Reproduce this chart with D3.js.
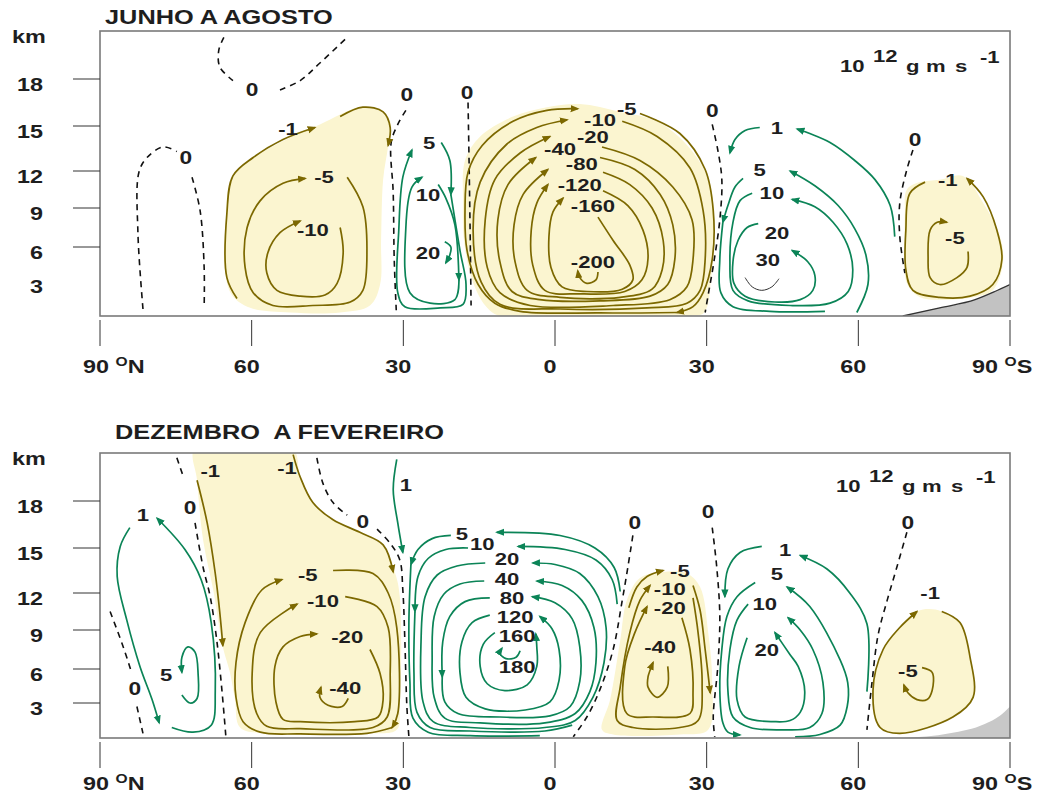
<!DOCTYPE html>
<html><head><meta charset="utf-8">
<script src="https://cdn.jsdelivr.net/npm/d3@7"></script>
<style>
body{margin:0;background:#fff;}
svg text{font-family:"Liberation Sans",Arial,sans-serif;font-weight:bold;fill:#1e1e1e;}
</style></head><body>
<svg id="chart" width="1046" height="796"></svg>
<script>
// ---------------- DATA (latitude: +N / -S, height in km) ----------------
const panelTitles = ["JUNHO A AGOSTO", "DEZEMBRO  A FEVEREIRO"];
const latTicks = [90, 60, 30, 0, -30, -60, -90];
const latTickLabels = ["90", "60", "30", "0", "30", "60", "90"];
const heightBreaks = [0, 3, 6, 9, 12, 15, 18, 21];
const heightLabels = [3, 6, 9, 12, 15, 18];
const jjaTickLines = [6, 9, 12, 15, 18];
const djfTickLines = [3, 6, 9, 12, 15, 18];
const unitText = ["10", "12", "g", "m", "s", "-1"];

// JJA -------------------------------------------------------------------
const jjaFills = [
  [[38.6,16.2],[34.6,16.0],[32.6,15.3],[33.0,13.7],[34.0,11.3],[34.4,6.5],[34.6,2.7],[36.6,0.9],[42.5,0.3],[52.4,0.3],[60.3,0.7],[63.9,1.8],[65.3,4.0],[65.1,8.1],[64.3,10.9],[61.3,12.5],[54.4,13.9],[46.5,15.1]],
  [[17.8,12.7],[14.8,14.3],[8.3,15.6],[1.6,16.2],[-4.9,16.4],[-12.9,15.9],[-20.2,15.3],[-26.7,13.5],[-30.7,10.9],[-31.4,7.5],[-30.9,3.3],[-29.5,0.3],[-26.7,0],[10.9,0],[13.8,0.9],[16.4,3.1],[18.0,6.5],[18.2,9.6]],
  [[-69.6,10.5],[-72.2,11.1],[-76.1,11.3],[-80.7,11.6],[-84.7,9.4],[-88.0,6.8],[-88.6,4.6],[-86.6,2.2],[-82.7,1.6],[-77.5,1.4],[-72.2,1.6],[-69.6,2.8],[-69.2,6.0],[-69.2,8.6]]
];
const jjaTerrain = [[-68.8,0],[-76.1,0.7],[-83.1,1.4],[-87.0,2.1],[-90,2.7]];
const jjaZero = [
  {label:[59.9,17.3], segs:[[[65.5,20.6],[66.5,19.8],[66.3,18.75],[63.7,17.9]], [[54.4,17.3],[50.4,17.9],[46.5,19.0],[41.1,20.6]]]},
  {label:[73.0,12.9], segs:[[[81.5,0.6],[82.5,7.1],[82.3,11.9],[80.7,12.9],[77.5,13.6],[74.8,13.3]], [[71.8,11.5],[70.2,8.8],[69.4,4.2],[69.4,0.7]]]},
  {label:[29.3,17.0], segs:[[[29.5,16.0],[31.1,15.1],[32.4,13.9],[32.0,10.2],[31.8,4.9],[31.4,0.5]]]},
  {label:[17.4,17.1], segs:[[[17.2,16.5],[17.0,12.7],[16.8,7.5],[16.6,0.9]]]},
  {label:[-31.1,16.0], segs:[[[-31.1,15.1],[-32.2,13.4],[-33.0,11.3],[-32.6,8.1],[-31.4,4.6],[-30.3,1.8],[-29.7,0.3]]]},
  {label:[-71.2,14.1], segs:[[[-70.8,13.4],[-69.6,12.1],[-68.2,9.4],[-68.2,6.8],[-69.2,3.7]]]}
];
const jjaContours = [
  {v:"-1", kind:"neg", label:[52.8,14.8], segs:[
    {a:1, p:[[62.9,1.5],[64.9,3.3],[64.9,8.6],[63.7,11.6],[59.7,12.9],[53.8,14.1],[47.5,14.9]]},
    {a:1, p:[[42.5,15.6],[38.0,16.2],[34.0,15.9],[32.6,14.9],[33.0,13.7]]}]},
  {v:"-5", kind:"neg", label:[45.7,11.5], segs:[
    {a:1, p:[[41.1,11.5],[38.0,9.1],[37.2,5.7],[38.0,2.2],[40.5,1.2],[47.9,0.9],[55.8,0.9],[59.7,2.0],[61.3,4.2],[60.9,7.5],[58.3,9.6],[53.8,11.0],[49.4,11.4]]}]},
  {v:"-10", kind:"neg", label:[47.9,7.3], segs:[
    {a:1, p:[[42.5,7.5],[41.9,5.5],[43.1,2.8],[45.5,1.8],[50.4,1.7],[55.0,2.2],[57.0,3.7],[56.8,5.5],[54.4,7.1],[50.4,8.0]]}]},
  {v:"5", kind:"pos", label:[24.9,13.9], segs:[
    {a:1, p:[[22.5,13.9],[20.8,12.7],[20.6,10.1]]},
    {a:1, p:[[20.6,10.1],[18.8,5.7],[17.6,2.7],[18.2,1.0],[22.7,0.7],[29.7,0.8],[31.1,2.0],[30.9,7.3],[30.1,11.5],[28.3,13.4]]}]},
  {v:"10", kind:"pos", label:[25.1,10.1], segs:[
    {a:1, p:[[23.1,10.9],[21.6,9.8],[19.8,7.7],[19.0,3.1]]},
    {a:1, p:[[19.0,3.1],[19.8,1.4],[24.7,1.1],[28.7,2.0],[29.5,7.5],[28.3,10.7],[26.3,11.5]]}]},
  {v:"20", kind:"pos", label:[25.1,5.5], segs:[
    {a:1, p:[[21.8,6.4],[20.6,6.0],[20.8,5.3],[21.6,4.6]]}]},
  {v:"-5", kind:"neg", label:[-14.2,16.1], segs:[
    {a:1, p:[[-16.8,15.8],[-24.7,14.5],[-29.7,12.1],[-31.3,8.8],[-31.1,4.9],[-29.3,2.0],[-27.3,0.8],[-24.1,0.3]]},
    {a:1, p:[[-24.1,0.3],[-8.9,0.26],[6.9,0.4],[11.9,1.1],[15.2,2.7],[17.4,5.7],[17.8,8.8],[17.2,11.9],[14.4,13.7],[8.3,15.3],[1.6,16.0],[-4.5,16.1]]}]},
  {v:"-10", kind:"neg", label:[-8.9,15.4], segs:[
    {a:1, p:[[-13.3,15.3],[-20.2,14.3],[-26.7,12.2],[-29.3,8.8],[-29.7,4.9],[-28.7,2.2],[-26.1,1.1],[-18.2,0.7],[-1.0,0.6],[10.9,1.0],[14.6,2.9],[16.2,7.3],[14.8,11.1],[9.5,13.8],[3.6,14.9],[-2.4,15.4]]}]},
  {v:"-20", kind:"neg", label:[-7.5,14.3], segs:[
    {a:1, p:[[-9.3,13.6],[-16.8,12.7],[-23.3,10.7],[-27.1,8.1],[-27.3,4.9],[-26.1,2.5],[-22.7,1.4],[-11.5,0.9],[4.9,0.9],[10.9,2.0],[13.4,4.2],[13.8,8.1],[11.9,11.3],[6.9,13.2],[1.0,14.3]]}]},
  {v:"-40", kind:"neg", label:[-1.0,13.5], segs:[
    {a:1, p:[[-8.9,12.9],[-15.8,12.1],[-20.8,10.1],[-23.3,7.7],[-23.7,4.9],[-22.3,2.7],[-18.8,1.7],[-8.9,1.3],[3.0,1.4],[8.5,2.1],[10.9,4.7],[11.3,8.1],[9.3,10.9],[3.8,12.9]]}]},
  {v:"-80", kind:"neg", label:[-5.3,12.5], segs:[
    {a:1, p:[[-9.5,11.9],[-14.8,10.9],[-19.2,9.0],[-21.4,6.5],[-21.2,4.0],[-19.2,2.3],[-12.9,1.6],[-1.0,1.6],[5.5,2.2],[7.9,4.7],[8.1,7.7],[6.3,10.1],[1.4,12.1]]}]},
  {v:"-120", kind:"neg", label:[-4.9,10.85], segs:[
    {a:1, p:[[-9.5,10.4],[-14.4,9.2],[-17.4,7.3],[-18.4,5.0],[-17.2,3.1],[-13.8,2.1],[-4.9,1.9],[2.0,2.2],[4.4,4.4],[4.7,7.3],[3.6,9.4],[1.4,10.9]]}]},
  {v:"-160", kind:"neg", label:[-7.5,9.15], segs:[
    {a:1, p:[[-8.5,8.3],[-11.5,6.5],[-14.8,4.4],[-15.4,3.1],[-13.3,2.3],[-6.3,2.1],[-1.4,2.5],[0.8,4.2],[1.2,6.8],[0.4,8.7],[-1.6,9.8]]}]},
  {v:"-200", kind:"neg", label:[-7.5,4.7], segs:[
    {a:1, p:[[-8.5,3.8],[-8.1,3.1],[-6.3,2.8],[-4.9,3.3],[-4.5,3.9]]}]},
  {v:"1", kind:"pos", label:[-43.9,14.9], segs:[
    {a:1, p:[[-40.5,14.9],[-37.6,14.7],[-35.6,14.1],[-34.6,13.2]]},
    {a:1, p:[[-67.2,6.8],[-66.3,9.2],[-63.3,11.3],[-59.3,12.7],[-54.4,13.9],[-50.4,14.5],[-47.9,14.8]]}]},
  {v:"5", kind:"pos", label:[-40.5,12.1], segs:[
    {a:1, p:[[-37.2,11.4],[-35.6,10.7],[-34.2,9.2],[-33.2,7.9]]},
    {a:0, p:[[-33.2,7.9],[-32.6,4.9],[-32.8,2.0],[-35.2,0.8],[-42.5,0.4],[-53.4,0.4]]},
    {a:1, p:[[-59.7,0.3],[-61.9,2.7],[-61.5,5.3],[-59.3,7.4],[-56.0,9.2],[-51.4,10.8],[-46.5,12.0]]}]},
  {v:"10", kind:"pos", label:[-42.9,10.2], segs:[
    {a:1, p:[[-39.0,10.2],[-36.6,9.6],[-35.2,7.9],[-34.6,4.7],[-35.2,2.2],[-38.2,1.3],[-46.5,0.9],[-54.4,1.1],[-58.0,2.1],[-58.9,4.0],[-57.8,6.2],[-55.0,7.9],[-51.4,9.1],[-46.9,9.7]]}]},
  {v:"20", kind:"pos", label:[-43.9,7.1], segs:[
    {a:1, p:[[-40.2,7.8],[-38.0,7.5],[-36.2,6.5],[-35.2,4.7],[-35.4,2.8],[-37.6,1.7],[-43.5,1.2],[-48.5,1.4],[-51.0,2.2],[-51.4,3.5],[-50.0,4.7],[-46.9,5.7]]}]},
  {v:"30", kind:"thin", label:[-42.1,4.9], segs:[
    {a:0, p:[[-37.6,3.3],[-39.0,2.5],[-40.9,2.2],[-42.9,2.5],[-44.3,3.2]]}]},
  {v:"-1", kind:"neg", label:[-77.7,11.3], segs:[
    {a:1, p:[[-73.2,11.1],[-70.2,10.2],[-69.4,7.3],[-69.4,4.0],[-70.8,2.2],[-76.1,1.6],[-82.1,1.7],[-86.6,2.7],[-88.4,4.9],[-87.4,7.3],[-84.7,9.9],[-81.5,11.4]]}]},
  {v:"-5", kind:"neg", label:[-79.1,6.7], segs:[
    {a:1, p:[[-81.7,5.6],[-81.5,4.2],[-79.5,3.3],[-76.1,2.7],[-74.2,3.3],[-73.8,5.1],[-74.2,7.3],[-75.6,7.9],[-77.5,7.9]]}]}
];

// DJF -------------------------------------------------------------------
const djfFills = [
  [[71.2,21.3],[52.0,21.3],[50.4,19.5],[47.9,17.9],[43.9,16.8],[38.6,16.0],[34.0,15.1],[31.6,13.3],[30.7,11.7],[30.7,2.7],[31.3,0.7],[37.2,0.4],[57.0,0.4],[62.3,0.9],[63.3,3.3],[64.3,5.7],[65.7,7.7],[67.6,12.2],[69.6,15.5],[70.8,19.3]],
  [[-9.3,0.7],[-10.9,3.3],[-12.9,8.2],[-14.2,11.4],[-16.8,13.0],[-21.4,13.4],[-26.1,13.3],[-28.7,12.4],[-30.3,8.8],[-31.1,4.8],[-30.3,0.7],[-24.7,0.3],[-11.5,0.3]],
  [[-76.5,10.5],[-80.1,9.6],[-82.1,6.9],[-82.7,3.5],[-78.7,1.8],[-68.2,0.4],[-64.3,0.9],[-62.9,4.1],[-64.9,7.5],[-68.2,9.2],[-71.6,10.5],[-74.0,10.7]]
];
const djfTerrain = [[-68.8,0],[-78.1,0.4],[-85.0,1.2],[-88.0,1.9],[-90,2.7]];
const djfZero = [
  {label:[83.1,4.3], segs:[[[88.0,10.5],[85.4,7.7],[83.7,5.6]], [[82.7,2.7],[81.5,0.4]]]},
  {label:[72.2,17.6], segs:[[[74.8,20.7],[73.6,19.6]], [[71.2,16.6],[69.6,13.7],[68.2,11.7],[66.9,8.2],[65.9,4.2],[65.1,0.1]]]},
  {label:[38.0,16.7], segs:[[[47.1,20.7],[45.9,19.1],[43.9,17.9],[41.1,17.1]], [[35.2,16.2],[32.6,15.3],[30.7,14.2],[30.1,12.2],[29.7,8.2],[29.3,2.7],[28.9,0.1]]]},
  {label:[-15.8,16.6], segs:[[[-15.4,15.8],[-14.4,13.7],[-13.3,11.4],[-11.5,7.5],[-8.9,4.2],[-6.3,1.8],[-3.6,0.1]]]},
  {label:[-30.3,17.3], segs:[[[-31.1,16.3],[-32.0,13.7],[-32.6,10.1],[-32.2,6.2],[-31.3,1.8],[-31.6,0.1]]]},
  {label:[-69.8,16.6], segs:[[[-69.6,16.0],[-67.6,13.7],[-65.7,11.4],[-63.9,8.6],[-62.7,4.8],[-61.7,0.7]]]}
];
const djfContours = [
  {v:"1", kind:"pos", label:[81.5,17.1], segs:[
    {a:1, p:[[84.1,16.3],[86.0,15.1],[86.6,13.1],[84.7,9.8],[82.1,6.2],[79.7,3.3],[78.3,1.3]]},
    {a:1, p:[[75.8,0.9],[71.6,0.5],[68.0,1.1],[67.2,4.1],[68.0,9.6],[70.0,12.9],[73.2,14.9],[78.7,16.9]]}]},
  {v:"5", kind:"pos", label:[76.9,5.5], segs:[
    {a:1, p:[[73.8,3.7],[72.2,3.0],[70.8,3.4],[70.6,5.6],[71.2,7.3],[72.6,7.7],[73.8,6.9],[73.8,5.7]]}]},
  {v:"-1", kind:"neg", label:[68.2,19.9], segs:[
    {a:1, p:[[70.8,19.3],[68.8,16.6],[67.2,13.3],[66.3,10.4],[65.7,7.8]]}]},
  {v:"-1", kind:"neg", label:[53.0,20.1], segs:[
    {a:1, p:[[51.8,20.9],[50.4,19.5],[47.9,17.9],[43.9,16.8],[38.6,16.0],[34.0,15.2],[32.0,13.4]]}]},
  {v:"-5", kind:"neg", label:[48.9,13.2], segs:[
    {a:1, p:[[43.9,13.5],[36.0,13.3],[33.0,12.0],[31.3,9.2],[31.1,2.1],[32.2,0.9]]},
    {a:1, p:[[32.2,0.9],[37.2,0.4],[50.4,0.35],[58.3,0.5],[61.7,1.4],[63.1,3.5],[63.1,6.5],[61.3,9.6],[58.0,12.2],[54.0,12.9]]}]},
  {v:"-10", kind:"neg", label:[45.9,11.4], segs:[
    {a:1, p:[[41.5,11.7],[35.2,10.9],[33.0,9.2],[32.6,5.6],[33.2,1.8],[36.0,0.9],[50.4,0.8],[57.0,1.0],[59.0,2.1],[59.9,5.6],[58.3,8.8],[51.0,11.1]]}]},
  {v:"-20", kind:"neg", label:[41.1,8.5], segs:[
    {a:1, p:[[36.6,7.5],[34.6,5.6],[34.0,3.3],[35.0,1.8],[39.6,1.4],[50.4,1.4],[53.8,1.6],[55.2,3.1],[55.4,6.2],[53.8,7.7],[50.4,8.5],[47.1,8.7]]}]},
  {v:"-40", kind:"neg", label:[41.5,4.3], segs:[
    {a:1, p:[[40.9,3.4],[42.1,2.7],[44.9,2.8],[46.5,3.5],[46.3,4.4]]}]},
  {v:"1", kind:"pos", label:[29.5,19.0], segs:[
    {a:1, p:[[31.3,20.6],[32.0,18.7],[31.1,16.6],[30.1,14.7]]}]},
  {v:"5", kind:"pos", label:[18.4,15.9], segs:[
    {a:1, p:[[20.6,15.8],[24.3,15.6],[27.1,14.9],[28.5,13.9]]},
    {a:0, p:[[28.5,13.9],[28.9,9.6],[28.7,4.9],[28.1,1.7],[25.1,0.5],[16.8,0.2],[3.0,0.2]]},
    {a:1, p:[[-12.9,12.1],[-11.7,13.7],[-7.9,15.0],[-1.0,15.8],[11.5,16.0]]}]},
  {v:"10", kind:"pos", label:[14.4,15.25], segs:[
    {a:1, p:[[17.2,15.0],[21.6,14.9],[25.1,14.3],[27.1,13.1],[27.7,10.5]]},
    {a:0, p:[[27.7,10.5],[27.9,5.7],[27.3,2.2],[24.7,0.9],[16.8,0.6],[2.0,0.6],[-3.4,1.1]]},
    {a:1, p:[[-12.3,11.1],[-11.3,12.9],[-8.1,14.2],[-2.0,14.9],[7.3,15.1]]}]},
  {v:"20", kind:"pos", label:[9.5,14.25], segs:[
    {a:1, p:[[13.8,14.0],[19.4,13.8],[23.3,13.2],[25.7,11.7],[26.5,8.1],[26.1,3.1],[24.1,1.4],[16.8,0.9],[2.0,0.9],[-4.0,1.5],[-7.5,3.5],[-9.7,6.5],[-10.1,9.2],[-8.5,11.7],[-4.9,13.3],[0,13.9],[4.4,14.0]]}]},
  {v:"40", kind:"pos", label:[9.5,12.97], segs:[
    {a:1, p:[[14.0,12.8],[18.8,12.6],[22.0,11.9],[23.9,10.1],[24.3,6.9],[23.9,3.5],[21.8,1.7],[14.8,1.3],[2.0,1.3],[-4.0,2.1],[-6.9,4.0],[-8.1,6.5],[-7.7,9.2],[-5.3,11.4],[-1.4,12.5],[3.6,12.8]]}]},
  {v:"80", kind:"pos", label:[8.5,11.64], segs:[
    {a:1, p:[[12.9,11.6],[17.8,11.3],[20.8,10.1],[22.2,8.1],[22.3,5.3]]},
    {a:1, p:[[22.3,5.3],[21.8,3.1],[19.2,2.1],[10.9,1.8],[1.0,1.9],[-3.0,2.7],[-4.9,4.9],[-4.9,7.7],[-3.4,9.9],[0,11.2],[4.5,11.7]]}]},
  {v:"120", kind:"pos", label:[7.9,10.09], segs:[
    {a:1, p:[[12.9,10.2],[16.4,9.6],[18.4,8.1],[18.8,5.7],[17.6,3.5],[13.8,2.5],[5.9,2.4],[1.0,3.1],[-0.8,5.0],[-0.8,7.5],[0.6,9.1],[3.0,10.1]]}]},
  {v:"160", kind:"pos", label:[7.5,8.58], segs:[
    {a:1, p:[[11.9,8.8],[14.2,7.9],[14.8,6.2],[13.4,4.7],[9.9,4.1],[5.5,4.6],[3.6,6.2],[3.6,7.7],[3.8,8.7]]}]},
  {v:"180", kind:"pos", label:[7.5,6.2], segs:[
    {a:1, p:[[6.9,7.4],[7.7,6.9],[9.7,6.8],[10.9,7.2],[10.5,7.6]]}]},
  {v:"-5", kind:"neg", label:[-24.7,13.5], segs:[
    {a:1, p:[[-14.6,10.8],[-16.2,12.4],[-18.2,13.1],[-21.4,13.5]]},
    {a:1, p:[[-27.3,12.5],[-28.7,10.6],[-29.7,7.5],[-30.7,3.9]]}]},
  {v:"-10", kind:"neg", label:[-22.7,12.3], segs:[
    {a:1, p:[[-27.3,11.6],[-28.3,8.8],[-29.1,4.8],[-28.3,1.5],[-24.7,0.9],[-15.4,0.9],[-12.3,1.5],[-12.9,4.4],[-14.8,8.8],[-16.8,11.4],[-18.8,12.5]]}]},
  {v:"-20", kind:"neg", label:[-22.7,10.8], segs:[
    {a:1, p:[[-25.1,10.0],[-26.7,7.5],[-27.3,3.9],[-26.7,2.1],[-19.4,1.8],[-14.2,2.1],[-13.8,6.2],[-15.8,8.8],[-18.2,10.9]]}]},
  {v:"-40", kind:"neg", label:[-20.8,7.7], segs:[
    {a:1, p:[[-22.3,6.2],[-22.2,4.4],[-20.2,3.5],[-18.4,4.4],[-18.4,5.3],[-19.4,6.5]]}]},
  {v:"1", kind:"pos", label:[-45.5,14.9], segs:[
    {a:1, p:[[-40.9,15.1],[-36.6,14.7],[-34.2,13.6],[-33.6,11.7]]},
    {a:1, p:[[-61.7,4.0],[-61.7,9.5],[-58.3,12.0],[-53.8,13.6],[-48.5,14.5]]}]},
  {v:"5", kind:"pos", label:[-43.9,13.3], segs:[
    {a:1, p:[[-39.6,12.7],[-36.0,11.7],[-34.0,10.1],[-33.0,7.5],[-32.6,4.1],[-33.2,1.3],[-34.2,0.5],[-36.6,0.26]]},
    {a:1, p:[[-47.5,0.1],[-52.4,0.3],[-56.4,1.1],[-57.8,2.7],[-57.9,4.8],[-56.4,6.7],[-50.4,10.9],[-45.9,12.4]]}]},
  {v:"10", kind:"pos", label:[-41.5,11.1], segs:[
    {a:1, p:[[-38.2,11.1],[-36.0,9.8],[-34.6,7.5],[-34.2,4.1],[-35.2,1.8],[-38.6,0.9],[-45.1,0.7],[-50.4,0.9],[-52.8,2.1],[-53.0,4.8],[-51.0,7.5],[-48.5,9.0],[-46.1,10.0]]}]},
  {v:"20", kind:"pos", label:[-41.9,7.5], segs:[
    {a:1, p:[[-38.0,8.4],[-36.4,6.2],[-36.0,3.3],[-37.6,1.8],[-43.5,1.4],[-46.5,1.5],[-48.5,2.2],[-49.4,4.0],[-48.1,6.2],[-46.5,7.1],[-43.5,8.8]]}]},
  {v:"-1", kind:"neg", label:[-74.2,12.0], segs:[
    {a:1, p:[[-76.5,10.5],[-80.1,9.6],[-82.1,6.9],[-82.7,3.5],[-78.7,1.8],[-68.2,0.4],[-64.3,0.9],[-62.9,4.1],[-64.9,7.5],[-68.2,9.2],[-71.6,10.5]]}]},
  {v:"-5", kind:"neg", label:[-69.8,5.8], segs:[
    {a:1, p:[[-72.6,6.1],[-74.6,5.7],[-74.6,4.1],[-73.6,3.3],[-71.6,3.3],[-69.8,3.9],[-69.0,4.6]]}]}
];

// ---------------- LAYOUT / STYLE ----------------
const OLIVE = "#7c6800", GREEN = "#0b8457", FILL = "#fbf5d0", SX = 1.3;
const svg = d3.select("#chart");
const x = d3.scaleLinear().domain([90, -90]).range([100, 1010]);
const y = d3.scaleLinear().domain(heightBreaks).range([316, 281, 247, 208, 171, 126, 79, 31]);
const defs = svg.append("defs");
[["arr-neg", OLIVE], ["arr-pos", GREEN]].forEach(([id, c]) => {
  defs.append("marker").attr("id", id).attr("viewBox", "0 0 10 10").attr("refX", 8).attr("refY", 5)
    .attr("markerWidth", 9).attr("markerHeight", 9).attr("markerUnits", "userSpaceOnUse").attr("orient", "auto")
    .append("path").attr("d", "M0,1 L10,5 L0,9 Z").attr("fill", c);
});
defs.append("clipPath").attr("id", "box").append("rect")
  .attr("x", x(90)).attr("y", y(21)).attr("width", x(-90) - x(90)).attr("height", y(0) - y(21));

const lineGen = d3.line().x(d => x(d[0])).y(d => y(d[1])).curve(d3.curveCatmullRom.alpha(0.5));
const closedGen = d3.line().x(d => x(d[0])).y(d => y(d[1])).curve(d3.curveCatmullRomClosed.alpha(0.5));

function txt(g, px, py, s, size, anchor) {
  return g.append("text").attr("transform", `translate(${px},${py}) scale(${SX},1)`)
    .attr("text-anchor", anchor || "middle").attr("font-size", size).text(s);
}

function drawPanel(cfg) {
  const g = svg.append("g").attr("transform", `translate(0,${cfg.dy})`);
  const plot = g.append("g").attr("clip-path", "url(#box)");
  cfg.fills.forEach(f => plot.append("path").attr("d", closedGen(f)).attr("fill", FILL));
  const area = d3.area().x(d => x(d[0])).y0(y(0)).y1(d => y(d[1])).curve(d3.curveMonotoneX);
  plot.append("path").attr("d", area(cfg.terrain)).attr("fill", cfg.terrainFill);
  if (cfg.terrainStroke) plot.append("path").attr("d", d3.line().x(d => x(d[0])).y(d => y(d[1])).curve(d3.curveMonotoneX)(cfg.terrain))
    .attr("fill", "none").attr("stroke", "#333").attr("stroke-width", 1.3);
  cfg.zero.forEach(z => {
    z.segs.forEach(s => plot.append("path").attr("d", lineGen(s)).attr("fill", "none")
      .attr("stroke", "#111").attr("stroke-width", 1.6).attr("stroke-dasharray", "6,5"));
  });
  cfg.contours.forEach(c => {
    const col = c.kind === "neg" ? OLIVE : c.kind === "pos" ? GREEN : "#333";
    c.segs.forEach(s => {
      const p = plot.append("path").attr("d", lineGen(s.p)).attr("fill", "none")
        .attr("stroke", col).attr("stroke-width", c.kind === "thin" ? 1 : 1.7);
      if (s.a) p.attr("marker-end", `url(#arr-${c.kind})`);
    });
  });
  // labels
  cfg.zero.forEach(z => txt(g, x(z.label[0]), y(z.label[1]), "0", 17.5).attr("dy", "0.36em"));
  cfg.contours.forEach(c => txt(g, x(c.label[0]), y(c.label[1]), c.v, 17).attr("dy", "0.36em"));
  // frame
  g.append("rect").attr("x", x(90)).attr("y", y(21)).attr("width", x(-90) - x(90)).attr("height", y(0) - y(21))
    .attr("fill", "none").attr("stroke", "#7a7a7a").attr("stroke-width", 1.6);
  // x axis
  latTicks.forEach((t, i) => {
    g.append("line").attr("x1", x(t)).attr("x2", x(t)).attr("y1", y(0) + 4).attr("y2", y(0) + 30)
      .attr("stroke", "#333").attr("stroke-width", 1);
    const lab = latTickLabels[i];
    if (i === 0 || i === latTicks.length - 1) {
      const tt = txt(g, x(t) + (i === 0 ? -17 : -38), y(0) + cfg.labDy, lab + " ", 18, "start");
      tt.attr("style", "white-space:pre");
      tt.append("tspan").attr("font-size", 12).attr("dy", -7).text("O");
      tt.append("tspan").attr("dy", 7).text(i === 0 ? "N" : "S");
    } else {
      txt(g, x(t) - 5, y(0) + cfg.labDy, lab, 18);
    }
  });
  // y axis
  cfg.tickLines.forEach(h => g.append("line").attr("x1", 73).attr("x2", x(90)).attr("y1", y(h)).attr("y2", y(h))
    .attr("stroke", "#333").attr("stroke-width", 1));
  heightLabels.forEach(h => txt(g, 43, y(h) + 6, String(h), 18, "end").attr("dy", "0.36em"));
  txt(g, 12, y(21) + cfg.kmDy, "km", 18, "start");
  // title
  txt(g, cfg.titleX, cfg.titleY, cfg.title, 19.5, "start").attr("style", "white-space:pre");
  // unit legend
  const uy = y(21) + cfg.unitDy;
  txt(g, cfg.unitX, uy, unitText[0], 17, "start");
  txt(g, cfg.unitX + 33, uy - 10, unitText[1], 17, "start");
  txt(g, cfg.unitX + 66, uy, unitText[2], 17, "start");
  txt(g, cfg.unitX + 86, uy, unitText[3], 17, "start");
  txt(g, cfg.unitX + 115, uy, unitText[4], 17, "start");
  txt(g, cfg.unitX + 140, uy - 9, unitText[5], 17, "start");
}

drawPanel({title: panelTitles[0], titleX: 105, titleY: 24, dy: 0, fills: jjaFills, terrain: jjaTerrain,
  terrainFill: "#c2c2c2", terrainStroke: true, zero: jjaZero, contours: jjaContours, tickLines: jjaTickLines,
  labDy: 57, kmDy: 12, unitX: 840, unitDy: 41});
drawPanel({title: panelTitles[1], titleX: 115, titleY: 17, dy: 422, fills: djfFills, terrain: djfTerrain,
  terrainFill: "#c8c8c8", terrainStroke: false, zero: djfZero, contours: djfContours, tickLines: djfTickLines,
  labDy: 52, kmDy: 12, unitX: 836, unitDy: 39});
</script></body></html>
